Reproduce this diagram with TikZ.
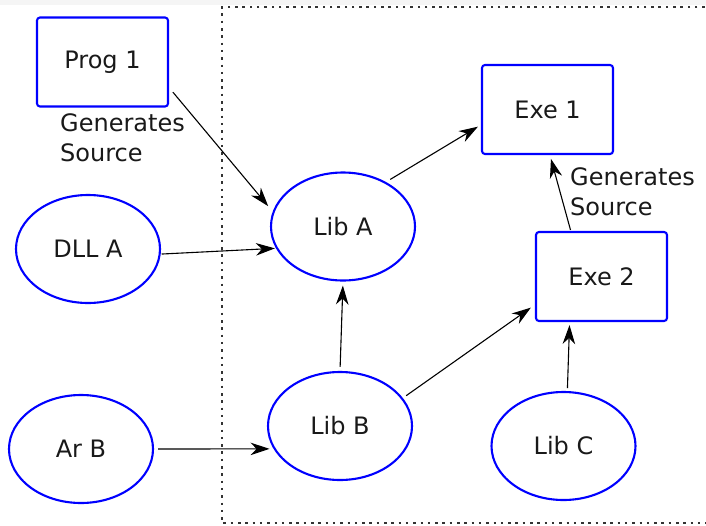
\documentclass[tikz,border=0pt]{standalone}
\usepackage{fontspec}
\setmainfont{DejaVu Sans}
\usetikzlibrary{arrows.meta,shapes.geometric}

\begin{document}
\begin{tikzpicture}[x=1pt,y=-1pt,
  every node/.style={font=\fontsize{24}{29.5}\selectfont, text=black!90},
  box/.style={draw=blue, line width=2.1pt, rounded corners=3pt,
    minimum width=131pt, minimum height=89pt, inner sep=0pt},
  oval/.style={draw=blue, line width=2.1pt, ellipse,
    minimum width=144pt, minimum height=108pt, inner sep=0pt},
  link/.style={-{Stealth[length=19pt,width=12.5pt,inset=6pt]}, line width=1.1pt},
  note/.style={align=left, inner sep=0pt, anchor=north west},
  groupline/.style={line width=1.3pt, black!80, dash pattern=on 2.5pt off 4.8pt}]

\useasboundingbox (0,0) rectangle (706,525);
\fill[black!4] (0,0) rectangle (706,5);

% boundary of the library group
\draw[groupline] (712,7) -- (222,7) -- (222,523) -- (712,523);

% programs and libraries
\node[box]  (prog1) at (102.5,62)   {Prog 1};
\node[box]  (exe1)  at (547.5,109.5) {Exe 1};
\node[box]  (exe2)  at (601.5,276.5) {Exe 2};
\node[oval] (dlla)  at (88,249)     {DLL A};
\node[oval] (liba)  at (343,226.5)  {Lib A};
\node[oval] (arb)   at (81,449)     {Ar B};
\node[oval] (libb)  at (340,426)    {Lib B};
\node[oval] (libc)  at (563.5,446)  {Lib C};

% annotations
\node[note] (gen1) at (60,113.5)  {Generates\\Source};
\node[note] (gen2) at (570,167.5) {Generates\\Source};

% dependencies
\draw[link, shorten <=6pt, shorten >=7pt]   (prog1.-21) -- (liba.168);
\draw[link, shorten <=5pt, shorten >=3.5pt] (liba.46)   -- (exe1.-167.5);
\draw[link, shorten <=1pt, shorten >=1pt]   (dlla.-4)   -- (liba.-162);
\draw[link, shorten <=4pt, shorten >=4pt]   (libb.north) -- (liba.south);
\draw[link, shorten <=4pt, shorten >=5pt]   (libb.24)   -- (exe2.-157);
\draw[link, shorten <=1pt, shorten >=4pt]   (exe2.124)  -- (exe1.-87);
\draw[link, shorten <=3pt, shorten >=3pt]   (libc.86)   -- (exe2.-125.5);
\draw[link, shorten <=4pt, shorten >=4pt]   (arb.east)  -- (libb.-161);
\end{tikzpicture}
\end{document}
